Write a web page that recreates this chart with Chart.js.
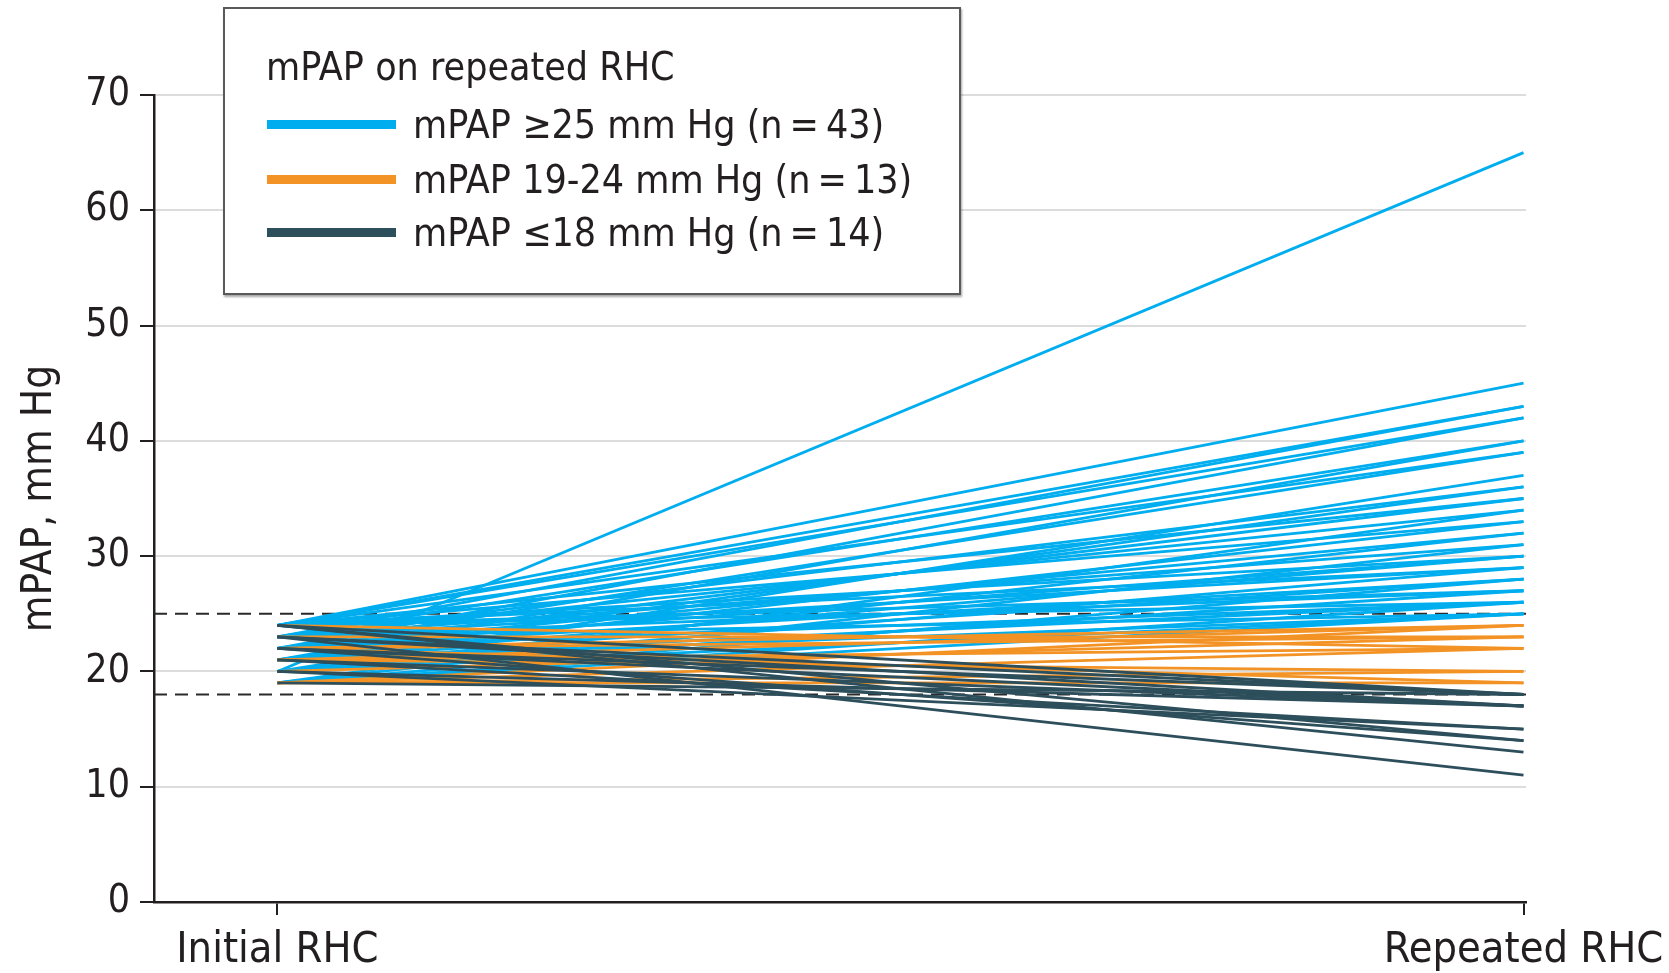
<!DOCTYPE html>
<html>
<head>
<meta charset="utf-8">
<script src="https://cdn.jsdelivr.net/npm/chart.js@4.4.1/dist/chart.umd.min.js"></script>
<style>
  html, body { margin: 0; padding: 0; background: #ffffff; }
  #wrap { position: relative; width: 1669px; height: 973px; overflow: hidden; }
  #chart { position: absolute; left: 0; top: 0; }
  #legend {
    position: absolute; left: 223px; top: 7px; width: 734px; height: 284px;
    border: 2px solid #5a5a5a; background: #ffffff;
    box-shadow: 1px 2px 2px rgba(0,0,0,0.35);
    font-family: 'Liberation Sans Narrow', 'DejaVu Sans Condensed', 'Liberation Sans', sans-serif;
    font-size: 39px; color: #231f20;
  }
  #legend .row { position: absolute; height: 50px; line-height: 50px; white-space: nowrap; }
  #legend .swatch { position: absolute; left: 42px; width: 129px; height: 9px; }
</style>
</head>
<body>
<div id="wrap">
  <canvas id="chart" width="1669" height="973"></canvas>
  <div id="legend"></div>
</div>
<script>
// ---- Data ----
const categories = ['Initial RHC', 'Repeated RHC'];
const yTickValues = [0, 10, 20, 30, 40, 50, 60, 70];
const thresholds = [25, 18];

const blueStart = [20,24,24,23,24,22,23,21,24,22,20,23,21,24,22,19,23,21,24,22,20,23,19,24,21,22,20,23,24,19,22,21,23,20,24,19,21,22,24,19,20,23,21];
const blueEnd   = [65,45,43,43,42,42,40,40,39,39,37,36,36,35,35,34,34,33,33,32,32,31,31,30,30,30,29,29,29,28,28,28,27,27,27,26,26,26,26,25,25,25,25];

const orangeStart = [19,21,22,20,22,23,19,21,24,21,19,22,19];
const orangeEnd   = [24,24,24,23,23,23,22,22,22,20,20,19,19];

const darkStart = [23,24,22,24,21,20,24,23,22,19,23,21,20,22];
const darkEnd   = [11,13,14,14,15,15,18,18,18,18,17,17,17,17];

const groupLabels = ['mPAP \u226525 mm Hg (n\u2009=\u200943)', 'mPAP 19-24 mm Hg (n\u2009=\u200913)', 'mPAP \u226418 mm Hg (n\u2009=\u200914)'];
const legendTitle = 'mPAP on repeated RHC';
const yTitle = 'mPAP, mm Hg';

// ---- Styles ----
const FONT = "'Liberation Sans Narrow', 'DejaVu Sans Condensed', 'Liberation Sans', sans-serif";
const TEXT = '#231f20';
const colors = ['#00aeef', '#f39325', '#2d4e5b'];
const X_MIN = -0.099, X_MAX = 1.002;

const datasets = [];
function addGroup(starts, ends, color, order) {
  for (let i = 0; i < starts.length; i++) {
    datasets.push({
      data: [{x: 0, y: starts[i]}, {x: 1, y: ends[i]}],
      borderColor: color, borderWidth: 2.8, pointRadius: 0, tension: 0,
      fill: false, order: order
    });
  }
}
addGroup(darkStart, darkEnd, colors[2], 1);
addGroup(orangeStart, orangeEnd, colors[1], 2);
addGroup(blueStart, blueEnd, colors[0], 3);
thresholds.forEach(t => {
  datasets.push({
    data: [{x: X_MIN, y: t}, {x: X_MAX, y: t}],
    borderColor: '#2a2a2a', borderWidth: 2, borderDash: [13, 8],
    pointRadius: 0, fill: false, order: 4
  });
});

new Chart(document.getElementById('chart'), {
  type: 'line',
  data: { datasets },
  options: {
    responsive: false,
    animation: false,
    layout: { padding: { top: 95, right: 143, left: 0, bottom: 0 } },
    plugins: { legend: { display: false }, tooltip: { enabled: false } },
    scales: {
      x: {
        type: 'linear', min: X_MIN, max: X_MAX,
        afterBuildTicks: (s) => { s.ticks = [{value: 0}, {value: 1}]; },
        afterFit: (s) => { s.height = 71; s.paddingLeft = 0; s.paddingRight = 0; },
        ticks: {
          callback: (v) => categories[v] !== undefined ? categories[v] : '',
          font: { family: FONT, size: 43, lineHeight: 1 }, color: TEXT,
          padding: 14, maxRotation: 0, autoSkip: false
        },
        grid: { drawOnChartArea: false, drawTicks: true, tickLength: 13, color: TEXT, lineWidth: 2 },
        border: { display: true, color: TEXT, width: 2.5 }
      },
      y: {
        min: 0, max: 70,
        afterBuildTicks: (s) => { s.ticks = yTickValues.map(v => ({value: v})); },
        afterFit: (s) => { s.width = 154; },
        ticks: { font: { family: FONT, size: 39 }, color: TEXT, padding: 10 },
        grid: { color: '#dcdcdc', lineWidth: 2, tickColor: TEXT, tickLength: 14, drawTicks: true },
        border: { display: true, color: TEXT, width: 2.5 },
        title: { display: true, text: yTitle, font: { family: FONT, size: 42 }, color: TEXT, padding: { top: 15, bottom: 0 } }
      }
    }
  }
});

// ---- Legend (HTML) ----
const lg = document.getElementById('legend');
const title = document.createElement('div');
title.className = 'row';
title.style.left = '41px'; title.style.top = '33px';
title.textContent = legendTitle;
lg.appendChild(title);
const rowTops = [91, 146, 199];
groupLabels.forEach((lab, i) => {
  const sw = document.createElement('div');
  sw.className = 'swatch';
  sw.style.background = colors[i];
  sw.style.top = (rowTops[i] + 20) + 'px';
  lg.appendChild(sw);
  const r = document.createElement('div');
  r.className = 'row';
  r.style.left = '188px'; r.style.top = rowTops[i] + 'px';
  r.textContent = lab;
  lg.appendChild(r);
});
</script>
</body>
</html>
